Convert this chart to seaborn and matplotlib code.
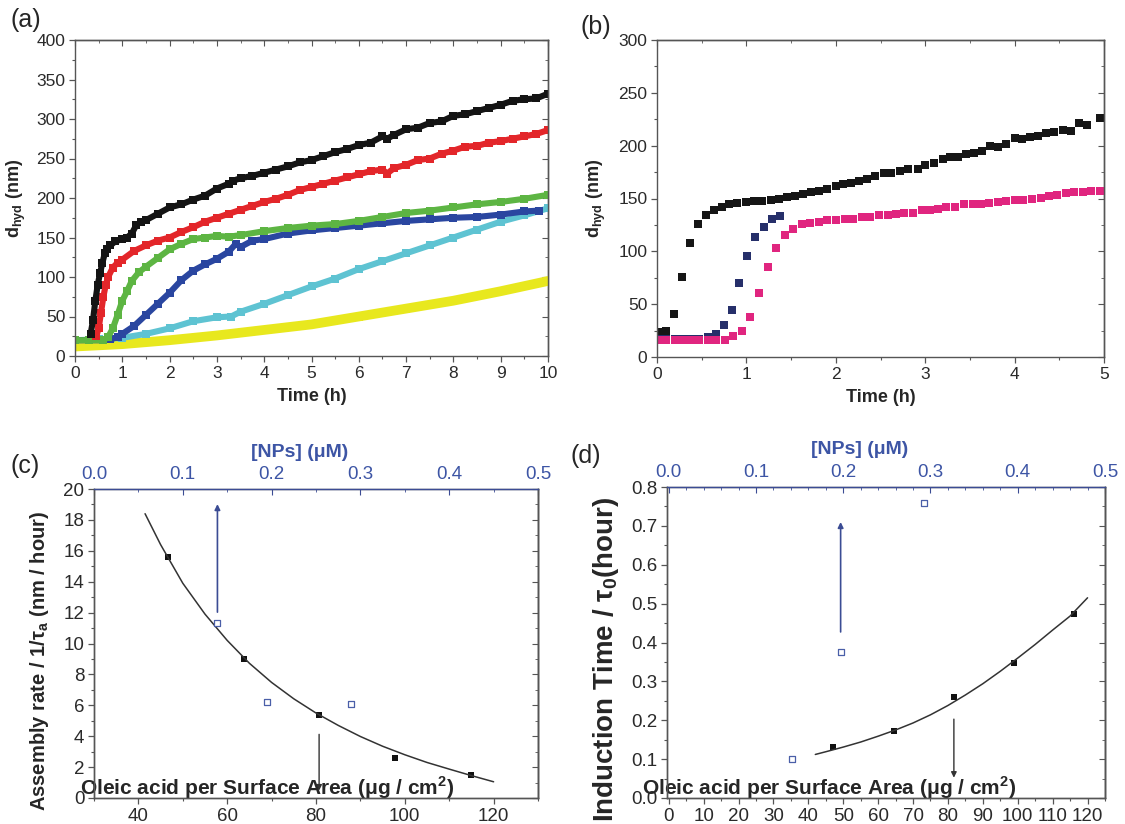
import numpy as np
import pandas as pd
import matplotlib
matplotlib.use("Agg")
import matplotlib.pyplot as plt
import seaborn as sns
from matplotlib.ticker import MultipleLocator, FormatStrFormatter

# ---------------- panel (a): d_hyd vs time, six samples ----------------
black_t = [0.33, 0.38, 0.43, 0.48, 0.53, 0.58, 0.63, 0.68, 0.75, 0.85,
           1.0, 1.1, 1.2, 1.3, 1.4, 1.5,
           1.75, 2.0, 2.25, 2.5, 2.75, 3.0, 3.25, 3.35, 3.5, 3.75,
           4.0, 4.25, 4.5, 4.75, 5.0, 5.25, 5.5, 5.75,
           6.0, 6.25, 6.5, 6.6, 6.75,
           7.0, 7.25, 7.5, 7.75, 8.0, 8.25, 8.5, 8.75,
           9.0, 9.25, 9.5, 9.75, 10.0]
black_y = [28, 45, 70, 90, 105, 118, 130, 136, 140, 145,
           148, 150, 155, 166, 170, 172,
           180, 188, 192, 198, 203, 212, 218, 222, 225, 228,
           232, 236, 240, 245, 248, 253, 258, 262,
           267, 270, 278, 275, 280,
           287, 289, 295, 297, 304, 306, 310, 314,
           318, 323, 325, 326, 332]

red_t = [0.45, 0.5, 0.55, 0.6, 0.65, 0.7, 0.8, 0.9, 1.0,
         1.25, 1.5, 1.75, 2.0, 2.25, 2.5, 2.75, 3.0,
         3.25, 3.5, 3.75, 4.0, 4.25, 4.5, 4.75, 5.0,
         5.25, 5.5, 5.75, 6.0, 6.25, 6.5, 6.6, 6.75,
         7.0, 7.25, 7.5, 7.75, 8.0, 8.25, 8.5, 8.75,
         9.0, 9.25, 9.5, 9.75, 10.0]
red_y = [25, 35, 55, 75, 90, 100, 112, 118, 122,
         133, 140, 146, 150, 157, 163, 170, 175,
         180, 185, 190, 195, 199, 204, 210, 214,
         218, 222, 226, 230, 234, 236, 231, 238,
         242, 248, 250, 256, 260, 265, 266, 270,
         272, 275, 278, 281, 286]

green_t = [0, 0.3, 0.6, 0.7, 0.8, 0.9, 1.0,
           1.1, 1.2, 1.35, 1.5, 1.75,
           2.0, 2.25, 2.5, 2.75, 3.0, 3.25, 3.5,
           4.0, 4.5, 5.0, 5.5, 6.0, 6.5, 7.0, 7.5, 8.0, 8.5, 9.0, 9.5, 10.0]
green_y = [20, 20, 20, 24, 35, 52, 70,
           82, 95, 106, 113, 124,
           135, 142, 148, 150, 152, 151, 153,
           158, 162, 165, 167, 171, 176, 181, 184, 188, 192, 195, 199, 204]

blue_t = [0, 0.3, 0.6, 0.75, 0.9, 1.0,
          1.25, 1.5, 1.75, 2.0, 2.25, 2.5, 2.75, 3.0, 3.25, 3.4, 3.5, 3.75,
          4.0, 4.5, 5.0, 5.5, 6.0, 6.5, 7.0, 7.5, 8.0, 8.5, 9.0, 9.5,
          9.8]
blue_y = [20, 20, 20, 21, 24, 28,
          38, 52, 66, 80, 96, 108, 116, 123, 132, 142, 138, 146,
          148, 155, 159, 162, 165, 168, 171, 173, 175, 176, 179, 183,
          184]

cyan_t = [0, 0.5, 1.0, 1.5, 2.0, 2.5, 3.0, 3.3, 3.5, 4.0, 4.5,
          5.0, 5.5, 6.0, 6.5, 7.0, 7.5, 8.0, 8.5, 9.0, 9.5, 10.0]
cyan_y = [20, 21, 23, 28, 35, 44, 49, 50, 56, 66, 77,
          88, 98, 110, 120, 130, 140, 150, 160, 170, 178, 187]

yellow_t = [0, 1, 2, 3, 4, 5, 6, 7, 8, 9, 10]
yellow_y = [12, 15, 20, 26, 33, 40, 50, 60, 70, 82, 95]

# ---------------- panel (b): three samples, first 5 h ----------------
b_black_t = [0.02, 0.10, 0.19, 0.28, 0.37, 0.46, 0.55, 0.64, 0.73, 0.81,
             0.90, 0.99, 1.09, 1.18, 1.27, 1.36, 1.45, 1.54, 1.63, 1.72,
             1.81, 1.90, 2.00, 2.08, 2.17, 2.26, 2.35, 2.44, 2.54, 2.62,
             2.72, 2.81, 2.92, 3.00, 3.10, 3.20, 3.28, 3.37, 3.46, 3.55,
             3.64, 3.73, 3.81, 3.90, 4.00, 4.08, 4.17, 4.26, 4.35, 4.44,
             4.54, 4.63, 4.72, 4.81, 4.95]
b_black_y = [23.7, 25, 41, 76, 108, 126, 134, 139, 142, 145,
             146, 146.5, 148, 148, 149, 150, 151, 152, 154, 156,
             157, 159, 162, 164, 165, 167, 168, 171, 174, 174,
             176, 178, 178, 182, 184, 187, 189, 189.5, 192, 193,
             195, 200, 199, 202, 207, 206, 208, 209, 212, 212.5,
             215, 214, 221, 219.5, 226]

b_navy_t = [0.03, 0.10, 0.20, 0.29, 0.38, 0.47, 0.57, 0.66, 0.75, 0.84,
            0.92, 1.01, 1.10, 1.20, 1.29, 1.38]
b_navy_y = [17, 17, 17, 17, 17, 17.5, 19, 21.5, 30, 44.8,
            70, 95.4, 113.7, 123, 130.4, 133]

b_pink_t = [0.03, 0.10, 0.20, 0.29, 0.38, 0.47, 0.57, 0.66, 0.76, 0.85,
            0.95, 1.04, 1.14, 1.24, 1.33, 1.43, 1.52, 1.62, 1.71, 1.81,
            1.90, 2.00, 2.10, 2.19, 2.29, 2.38, 2.48, 2.58, 2.67, 2.76,
            2.86, 2.96, 3.05, 3.14, 3.23, 3.33, 3.43, 3.53, 3.62, 3.71,
            3.81, 3.90, 4.00, 4.09, 4.19, 4.29, 4.38, 4.47, 4.58, 4.67,
            4.76, 4.86, 4.95]
b_pink_y = [16, 16, 16, 16, 16, 16, 16, 16.4, 16.4, 19.6,
            24.6, 38, 60.6, 85.3, 103.6, 115, 121, 125.7, 127, 128,
            130, 130, 131, 131, 132.6, 132.6, 134.8, 134.8, 135.8, 136.4,
            136.4, 139, 139, 140.5, 141.5, 142, 144.6, 145, 145, 146,
            147, 148, 149, 149, 150, 150.6, 152, 153, 155, 156,
            156.6, 157, 157]

# ---------------- panel (c): assembly rate ----------------
c_oleic = [46.7, 63.7, 80.7, 97.8, 114.8]
c_rate = [15.6, 9.0, 5.37, 2.57, 1.47]
c_nps = [0.139, 0.195, 0.289]
c_rate_nps = [11.33, 6.23, 6.10]
c_fit_x = [41.5, 45, 50, 55, 60, 65, 70, 75, 80, 85, 90, 95, 100, 105, 110, 115, 120]
c_fit_y = [18.4, 16.4, 13.9, 11.9, 10.2, 8.72, 7.48, 6.42, 5.5, 4.7, 3.98, 3.35, 2.8, 2.3, 1.87, 1.45, 1.05]
c_arrow_up = [0.139, 11.85, 19.2]     # NPs, from, to
c_arrow_down = [80.7, 4.3, 0.3]       # oleic, from, to

# ---------------- panel (d): induction time ----------------
d_oleic = [47.1, 64.4, 81.7, 98.9, 116.2]
d_time = [0.131, 0.173, 0.259, 0.346, 0.473]
d_nps = [0.141, 0.197, 0.293]
d_time_nps = [0.1005, 0.3755, 0.759]
d_fit_x = [42, 45, 50, 55, 60, 65, 70, 75, 80, 85, 90, 95, 100, 105, 110, 115, 120]
d_fit_y = [0.112, 0.119, 0.131, 0.144, 0.159, 0.175, 0.193, 0.214, 0.238, 0.265,
           0.294, 0.326, 0.360, 0.395, 0.432, 0.468, 0.515]
d_arrow_up = [0.197, 0.42, 0.717]
d_arrow_down = [81.7, 0.21, 0.045]

SPINE = "#555555"
NPBLUE = "#3d55a5"

sns.set_style("ticks")
plt.rcParams["font.family"] = ["Liberation Sans", "DejaVu Sans"]
plt.rcParams["mathtext.fontset"] = "custom"
plt.rcParams["mathtext.rm"] = "Liberation Sans"
plt.rcParams["mathtext.bf"] = "Liberation Sans:bold"
plt.rcParams["axes.edgecolor"] = SPINE
plt.rcParams["axes.linewidth"] = 1.0
plt.rcParams["xtick.color"] = SPINE
plt.rcParams["ytick.color"] = SPINE
plt.rcParams["xtick.labelcolor"] = "#2a2a2a"
plt.rcParams["ytick.labelcolor"] = "#2a2a2a"

W, H = 1125, 824
fig = plt.figure(figsize=(W / 100, H / 100), dpi=100)


def box(left, top, right, bottom):
    return [left / W, 1 - bottom / H, (right - left) / W, (bottom - top) / H]


def style_axis(ax, xmaj, xmin, ymaj, ymin, size, top_mirror=True):
    ax.xaxis.set_major_locator(MultipleLocator(xmaj))
    ax.xaxis.set_minor_locator(MultipleLocator(xmin))
    ax.yaxis.set_major_locator(MultipleLocator(ymaj))
    ax.yaxis.set_minor_locator(MultipleLocator(ymin))
    ax.tick_params(which="major", direction="out", length=4, width=0.9, labelsize=size, pad=3)
    ax.tick_params(which="minor", direction="out", length=2.5, width=0.8)
    for s in ax.spines.values():
        s.set_visible(True)
    sec_y = ax.secondary_yaxis("right")
    sec_y.yaxis.set_major_locator(MultipleLocator(ymaj))
    sec_y.yaxis.set_minor_locator(MultipleLocator(ymin))
    sec_y.tick_params(which="both", direction="in", labelright=False)
    sec_y.tick_params(which="major", length=4)
    sec_y.tick_params(which="minor", length=2.5)
    if top_mirror:
        sec_x = ax.secondary_xaxis("top")
        sec_x.xaxis.set_major_locator(MultipleLocator(xmaj))
        sec_x.xaxis.set_minor_locator(MultipleLocator(xmin))
        sec_x.tick_params(which="both", direction="in", labeltop=False)
        sec_x.tick_params(which="major", length=4)
        sec_x.tick_params(which="minor", length=2.5)


# ---------------- (a) ----------------
ax_a = fig.add_axes(box(75, 40, 548, 356))
series_a = [
    (yellow_t, yellow_y, "#e8e81e", 7.0),
    (cyan_t, cyan_y, "#5ec3d2", 4.4),
    (blue_t, blue_y, "#2a46a0", 4.4),
    (green_t, green_y, "#5db543", 4.4),
    (red_t, red_y, "#e3262a", 4.4),
    (black_t, black_y, "#141414", 4.4),
]
for t, y, c, lw in series_a:
    sns.lineplot(x=t, y=y, ax=ax_a, color=c, lw=lw, marker="s", markersize=5.2,
                 markeredgewidth=0, sort=False, errorbar=None)
ax_a.set_xlim(0, 10)
ax_a.set_ylim(0, 400)
style_axis(ax_a, 1, 0.5, 50, 25, 12.5)
ax_a.set_xlabel("Time (h)", fontsize=13, fontweight="bold", labelpad=5)
ax_a.set_ylabel(r"d$_\mathregular{hyd}$ (nm)", fontsize=13, fontweight="bold")
ax_a.yaxis.set_label_coords(-0.1, 0.5)

# ---------------- (b) ----------------
ax_b = fig.add_axes(box(657, 40, 1104, 357))
for t, y, c in [(b_black_t, b_black_y, "#161616"),
                (b_navy_t, b_navy_y, "#262f6a"),
                (b_pink_t, b_pink_y, "#e0257f")]:
    sns.scatterplot(x=t, y=y, ax=ax_b, color=c, marker="s", s=28, linewidth=0)
ax_b.set_xlim(0, 5)
ax_b.set_ylim(0, 300)
style_axis(ax_b, 1, 0.5, 50, 25, 12.5)
ax_b.set_xlabel("Time (h)", fontsize=13, fontweight="bold", labelpad=5)
ax_b.set_ylabel(r"d$_\mathregular{hyd}$ (nm)", fontsize=13, fontweight="bold")
ax_b.yaxis.set_label_coords(-0.11, 0.5)

# ---------------- (c) ----------------
ax_c = fig.add_axes(box(94, 489, 538, 798))
sns.lineplot(x=c_fit_x, y=c_fit_y, ax=ax_c, color="#333333", lw=1.1, errorbar=None)
sns.scatterplot(x=c_oleic, y=c_rate, ax=ax_c, color="#111111", marker="s", s=18, linewidth=0)
ax_c.annotate("", xy=(c_arrow_down[0], c_arrow_down[2]), xytext=(c_arrow_down[0], c_arrow_down[1]),
              arrowprops=dict(arrowstyle="-|>", color="#333333", lw=1.0, mutation_scale=8))
ax_c.set_xlim(30, 130)
ax_c.set_ylim(0, 20)
style_axis(ax_c, 20, 10, 2, 1, 13.5, top_mirror=False)
ax_c.set_ylabel(r"Assembly rate / 1/τ$_\mathregular{a}$ (nm / hour)", fontsize=14.5,
                fontweight="bold")
ax_c.yaxis.set_label_coords(-0.097, 0.445)
ax_c.text(-0.032, 0.01, r"Oleic acid per Surface Area (μg / cm$^\mathregular{2}$)",
          transform=ax_c.transAxes, fontsize=15, fontweight="bold", ha="left", va="baseline")

top_c = ax_c.twiny()
top_c.set_xlim(0, 0.5)
sns.scatterplot(x=c_nps, y=c_rate_nps, ax=top_c, marker="s", s=16, facecolor="white",
                edgecolor="#4a5fa8", linewidth=0.9)
top_c.annotate("", xy=(c_arrow_up[0], c_arrow_up[2]), xytext=(c_arrow_up[0], c_arrow_up[1]),
               arrowprops=dict(arrowstyle="-|>", color="#3b4c94", lw=1.2, mutation_scale=8))

# ---------------- (d) ----------------
ax_d = fig.add_axes(box(667, 487, 1105, 798))
sns.lineplot(x=d_fit_x, y=d_fit_y, ax=ax_d, color="#333333", lw=1.1, errorbar=None)
sns.scatterplot(x=d_oleic, y=d_time, ax=ax_d, color="#111111", marker="s", s=18, linewidth=0)
ax_d.annotate("", xy=(d_arrow_down[0], d_arrow_down[2]), xytext=(d_arrow_down[0], d_arrow_down[1]),
              arrowprops=dict(arrowstyle="-|>", color="#333333", lw=1.0, mutation_scale=8))
ax_d.set_xlim(-0.5, 125)
ax_d.set_ylim(0, 0.8)
style_axis(ax_d, 10, 5, 0.1, 0.05, 13.5, top_mirror=False)
ax_d.set_ylabel(r"Induction Time / τ$_\mathregular{0}$(hour)", fontsize=20, fontweight="bold")
ax_d.yaxis.set_label_coords(-0.105, 0.445)
ax_d.text(-0.058, 0.01, r"Oleic acid per Surface Area (μg / cm$^\mathregular{2}$)",
          transform=ax_d.transAxes, fontsize=15, fontweight="bold", ha="left", va="baseline")

top_d = ax_d.twiny()
top_d.set_xlim(-0.5 / 250, 125 / 250)
sns.scatterplot(x=d_nps, y=d_time_nps, ax=top_d, marker="s", s=16, facecolor="white",
                edgecolor="#4a5fa8", linewidth=0.9)
top_d.annotate("", xy=(d_arrow_up[0], d_arrow_up[2]), xytext=(d_arrow_up[0], d_arrow_up[1]),
               arrowprops=dict(arrowstyle="-|>", color="#3b4c94", lw=1.2, mutation_scale=8))

for top, minor, lx in [(top_c, 0.05, 0.464), (top_d, 0.02, 0.44)]:
    top.xaxis.set_major_locator(MultipleLocator(0.1))
    top.xaxis.set_minor_locator(MultipleLocator(minor))
    top.xaxis.set_major_formatter(FormatStrFormatter("%.1f"))
    top.tick_params(which="both", direction="in", labelsize=13.5, labelcolor=NPBLUE,
                    color="#3b4c94", pad=4)
    top.tick_params(which="major", length=4)
    top.tick_params(which="minor", length=2.5)
    top.spines["top"].set_color("#3b4c94")
    top.set_xlabel("[NPs] (μM)", fontsize=14, fontweight="bold", color=NPBLUE)
    top.xaxis.set_label_coords(lx, 1.105)
    top.set_ylabel("")

# panel letters
for x, y, s in [(10, 27, "(a)"), (580, 34, "(b)"), (10, 473, "(c)"), (570, 463, "(d)")]:
    fig.text(x / W, 1 - y / H, s, fontsize=18, ha="left", va="baseline")

fig.savefig("out.png", dpi=100)
